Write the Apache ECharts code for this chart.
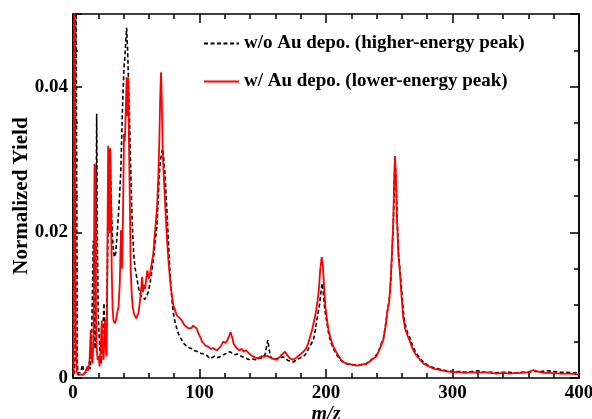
<!DOCTYPE html>
<html>
<head>
<meta charset="utf-8">
<script src="https://cdn.jsdelivr.net/npm/echarts@6/dist/echarts.min.js"></script>
<style>html,body{margin:0;padding:0;background:#fff}#c{width:592px;height:419px}</style>
</head>
<body>
<div id="c"></div>
<script>
var xTicks = [0, 100, 200, 300, 400];
var yTickLabels = ['0', '0.02', '0.04'];
var legendNames = ['w/o Au depo. (higher-energy peak)', 'w/ Au depo. (lower-energy peak)'];

var blackMz = [0.5,1.2,1.6,2.3,2.9,3.4,4,5,6,7.6,8.5,9.5,10.5,11.5,12.3,13,13.6,14.5,15.2,16.1,16.7,17.5,18.1,18.7,19.3,20,21.3,22.3,23.2,24.5,25.3,26,26.8,28,29.2,30.1,31,31.9,32.8,33.8,34.8,35.8,36.8,37.7,38.5,39.3,40.3,41,41.6,42.4,43.2,44.3,45.6,46.4,47.2,48,49,50.8,52,53,54.2,55.5,56.8,58.2,59.5,60.9,62.2,63.5,64.8,66.2,67.2,68.2,69.2,70.2,70.9,71.8,72.7,73.6,74.5,75.6,76.7,78,79.3,80.5,82,83.3,85,87.2,89,91,93,95.1,97,98.8,101,103.5,105.7,108,110,112,114,116,118,120,122,124,126,128,130,132,134,136,138,140,142,144,146,148,150,152,153.2,154,155,156,158,160,162,164,166,168,170,172,174,176,178,180,182,184,186,188,190,191.5,193,195,196,197,198,199,200.5,202,204,206,208,210,212,214,217,220,223,226,229,232,235,238,241,243,245.3,247,248.5,250,251.3,252.3,253.2,254,254.6,255.3,256.3,257.3,258.5,260,261.2,262.7,264.5,266.4,268.5,271,274.3,277,280,285,290,295,300,305,310,315,320,325,330,335,340,345,350,355,360,365,370,375,380,385,390,395,400];
var blackYield = [0.0005,0.001,0.003,0.06,0.06,0.002,0.0006,0.0004,0.0008,0.0018,0.0006,0.0005,0.0008,0.0012,0.0018,0.0022,0.0012,0.0035,0.010,0.0189,0.008,0.004,0.015,0.0363,0.018,0.008,0.0038,0.0020,0.0045,0.0103,0.0050,0.0045,0.010,0.0253,0.0317,0.0250,0.0200,0.0175,0.0166,0.0172,0.0195,0.0221,0.0250,0.0280,0.0330,0.0381,0.0426,0.0440,0.0459,0.0481,0.0449,0.0381,0.0289,0.0235,0.0198,0.0170,0.0152,0.0134,0.0122,0.0116,0.0112,0.0112,0.0108,0.0107,0.0118,0.0130,0.0145,0.0162,0.0185,0.0207,0.0240,0.0280,0.0300,0.0310,0.0315,0.0300,0.0280,0.0250,0.0221,0.0180,0.0143,0.0112,0.0089,0.0078,0.0068,0.0061,0.0055,0.0048,0.0045,0.0042,0.0041,0.0038,0.0037,0.0036,0.0034,0.0033,0.0031,0.0027,0.0028,0.0030,0.0028,0.0029,0.0031,0.0033,0.0034,0.0036,0.0034,0.0032,0.0033,0.0031,0.0029,0.0028,0.0026,0.0025,0.0026,0.0025,0.0027,0.0027,0.0028,0.0033,0.0045,0.0052,0.0040,0.0030,0.0025,0.0026,0.0027,0.0028,0.0029,0.0027,0.0024,0.0023,0.0022,0.0024,0.0026,0.0028,0.0029,0.0033,0.0040,0.0046,0.0052,0.0065,0.0082,0.0102,0.0118,0.0130,0.0115,0.0095,0.0078,0.0062,0.0048,0.0040,0.0033,0.0028,0.0024,0.0021,0.0019,0.0018,0.0018,0.0017,0.0019,0.0020,0.0024,0.0028,0.0034,0.0044,0.0054,0.0072,0.0090,0.0108,0.0135,0.0175,0.0210,0.0270,0.0300,0.0275,0.0215,0.0172,0.0148,0.0115,0.0090,0.0073,0.0062,0.0055,0.0044,0.0035,0.0027,0.0022,0.0018,0.0014,0.0012,0.0010,0.0009,0.0009,0.0008,0.0009,0.0010,0.0008,0.0008,0.0007,0.0008,0.0008,0.0007,0.0008,0.0008,0.0009,0.0009,0.0010,0.0009,0.0008,0.0008,0.0007,0.0007];

var redMz = [0.5,1.0,1.6,2.2,2.6,3,4,5,6,7,8,9,10,11,12,13,14,14.6,15.5,16.3,17,17.6,18.2,18.8,19.5,20.3,21,21.8,22.7,23.4,24.2,25.3,26,26.7,27.2,27.8,28.4,28.9,29.4,30,30.6,31.3,32,33,34,35,36,37,37.9,38.7,39.5,40.3,41,41.6,42.4,43,43.6,44.2,44.8,45.6,46.4,47.2,48.2,49,50,50.8,51.8,53,54,54.6,55.3,56,57,58,58.8,59.8,60.8,62,63.5,64.5,65.5,66.5,67.5,68.3,69,69.6,70.2,70.9,71.8,72.7,74,75.4,76.7,78,79.3,80.5,82,83.5,84.6,86,87.2,88.5,90,91.3,92.5,93.8,95,96.4,97.8,99,100.6,102,103.5,105,107,109,111,113.6,115.5,117,118.7,120.5,122,123.5,124.6,125.8,127,129.4,131.5,133.5,135,137,139,141,143,145,147,149,151,153,155,157,159,161,163,165,167.6,169.5,171.5,174,176,178,180,182,184,186,187.5,189,190.5,192,193.5,194.5,195.5,196.6,197.5,198.5,199.5,200.5,202,204,205.8,208,210,212,213.7,216,219,221.6,224.3,227,230,232,234.8,237,240,242.7,245.3,247,248.5,250,251.3,252.3,253.2,254,254.5,255.2,256.2,257.2,258.5,259.8,261,262.5,264.5,266.4,268.5,271,274.3,277,280,284.8,290,295.4,300,305,310,315,320,325,330,335,340,345,350,355,360,364,367,372,378,385,392,400];
var redYield = [0.0005,0.06,0.06,0.006,0.003,0.0008,0.0004,0.0003,0.0005,0.0003,0.0004,0.0006,0.0009,0.0015,0.0010,0.0020,0.0066,0.0030,0.0020,0.006,0.0294,0.0290,0.008,0.0038,0.0025,0.0030,0.0016,0.0035,0.0079,0.0040,0.0025,0.0079,0.0040,0.0030,0.018,0.0319,0.025,0.0199,0.0315,0.025,0.015,0.0095,0.0079,0.0075,0.0080,0.0090,0.0098,0.013,0.0203,0.0150,0.022,0.0335,0.0325,0.036,0.0413,0.036,0.0413,0.033,0.0260,0.0152,0.0115,0.0098,0.0088,0.0089,0.0082,0.0080,0.0090,0.0107,0.0125,0.0139,0.0118,0.0128,0.0122,0.0138,0.0148,0.0136,0.0142,0.0155,0.0171,0.0195,0.0215,0.0235,0.0280,0.0330,0.039,0.0420,0.038,0.0312,0.0275,0.0244,0.0200,0.0162,0.0135,0.0116,0.0100,0.0094,0.0086,0.0088,0.0082,0.0079,0.0075,0.0072,0.0070,0.0068,0.0066,0.0069,0.0072,0.0073,0.0068,0.0062,0.0056,0.0050,0.0047,0.0044,0.0043,0.0040,0.0041,0.0038,0.0041,0.0044,0.0050,0.0048,0.0052,0.0058,0.0063,0.0056,0.0047,0.0041,0.0038,0.0040,0.0036,0.0038,0.0034,0.0031,0.0029,0.0027,0.0028,0.0030,0.0029,0.0031,0.0029,0.0027,0.0026,0.0025,0.0028,0.0032,0.0036,0.0031,0.0027,0.0025,0.0027,0.0030,0.0033,0.0036,0.0040,0.0048,0.0057,0.0066,0.0078,0.0090,0.0108,0.0125,0.0150,0.0166,0.0155,0.0125,0.0098,0.0084,0.0066,0.0052,0.0043,0.0036,0.0030,0.0025,0.0022,0.0020,0.0019,0.0018,0.0017,0.0018,0.0019,0.0019,0.0023,0.0026,0.0030,0.0041,0.0052,0.0070,0.0092,0.0105,0.0140,0.0180,0.0215,0.0280,0.0305,0.0280,0.0215,0.0170,0.0143,0.0110,0.0084,0.0068,0.0058,0.0050,0.0040,0.0032,0.0025,0.0020,0.0017,0.0013,0.0011,0.0009,0.0008,0.0008,0.0007,0.0008,0.0007,0.0008,0.0007,0.0006,0.0007,0.0006,0.0007,0.0007,0.0008,0.0011,0.0009,0.0007,0.0007,0.0006,0.0006,0.0005];

function zip(a, b) { return a.map(function (v, i) { return [v, b[i]]; }); }

var FONT = "'Liberation Serif', 'Times New Roman', serif";
var lineCol = '#000';

function xAx(pos, showLabel) {
  return {
    type: 'value', position: pos, min: xTicks[0], max: xTicks[xTicks.length - 1], interval: 100,
    axisLine: { show: true, onZero: false, lineStyle: { color: lineCol, width: 1.5 } },
    axisTick: { show: true, inside: true, length: 9, lineStyle: { color: lineCol, width: 1.5 } },
    minorTick: { show: true, splitNumber: 5, length: 5, lineStyle: { color: lineCol, width: 1.5 } },
    splitLine: { show: false },
    axisLabel: { show: showLabel, margin: 6, color: '#000', fontFamily: FONT, fontWeight: 'bold', fontSize: 19 },
    name: showLabel ? 'm/z' : '', nameLocation: 'middle', nameGap: 27, nameMoveOverlap: false,
    nameTextStyle: { color: '#000', fontFamily: FONT, fontWeight: 'bold', fontStyle: 'italic', fontSize: 20 }
  };
}
function yAx(pos, interval, len, showLabel, showName) {
  return {
    type: 'value', position: pos, min: 0, max: 0.05, interval: interval,
    axisLine: { show: true, onZero: false, lineStyle: { color: lineCol, width: 1.5 } },
    axisTick: { show: true, inside: true, length: len, lineStyle: { color: lineCol, width: 1.5 } },
    splitLine: { show: false },
    axisLabel: {
      show: showLabel, margin: 5, color: '#000', fontFamily: FONT, fontWeight: 'bold', fontSize: 19,
      formatter: function (v) {
        var k = Math.round(v / 0.02);
        if (Math.abs(v - k * 0.02) > 1e-9) return '';
        return yTickLabels[k] || '';
      }
    },
    name: showName ? 'Normalized Yield' : '', nameLocation: 'middle', nameGap: 41, nameMoveOverlap: false,
    nameTextStyle: { color: '#000', fontFamily: FONT, fontWeight: 'bold', fontSize: 21 }
  };
}

var chart = echarts.init(document.getElementById('c'), null, { renderer: 'canvas' });
chart.setOption({
  animation: false,
  backgroundColor: '#fff',
  grid: { left: 73, right: 13, top: 14, bottom: 41, outerBoundsMode: 'none', containLabel: false },
  legend: {
    data: legendNames, orient: 'vertical', left: 203, top: 34, padding: 0,
    itemWidth: 35, itemHeight: 14, itemGap: 19,
    itemStyle: { color: 'rgba(0,0,0,0)', borderWidth: 0, opacity: 0 },
    textStyle: { color: '#000', fontFamily: FONT, fontWeight: 'bold', fontSize: 19 }
  },
  xAxis: [xAx('bottom', true), xAx('top', false)],
  yAxis: [
    yAx('left', 0.005, 5, true, true),
    yAx('left', 0.02, 9, false, false),
    yAx('right', 0.005, 5, false, false),
    yAx('right', 0.02, 9, false, false)
  ],
  series: [
    {
      name: legendNames[0], type: 'line', xAxisIndex: 0, yAxisIndex: 0, symbol: 'none', clip: true,
      data: zip(blackMz, blackYield),
      lineStyle: { color: '#000', width: 1.6, type: [4, 2.5] }, itemStyle: { color: '#000' }
    },
    {
      name: legendNames[1], type: 'line', xAxisIndex: 0, yAxisIndex: 0, symbol: 'none', clip: true,
      data: zip(redMz, redYield),
      lineStyle: { color: '#ff0000', width: 1.8 }, itemStyle: { color: '#ff0000' }
    }
  ]
});
</script>
</body>
</html>
